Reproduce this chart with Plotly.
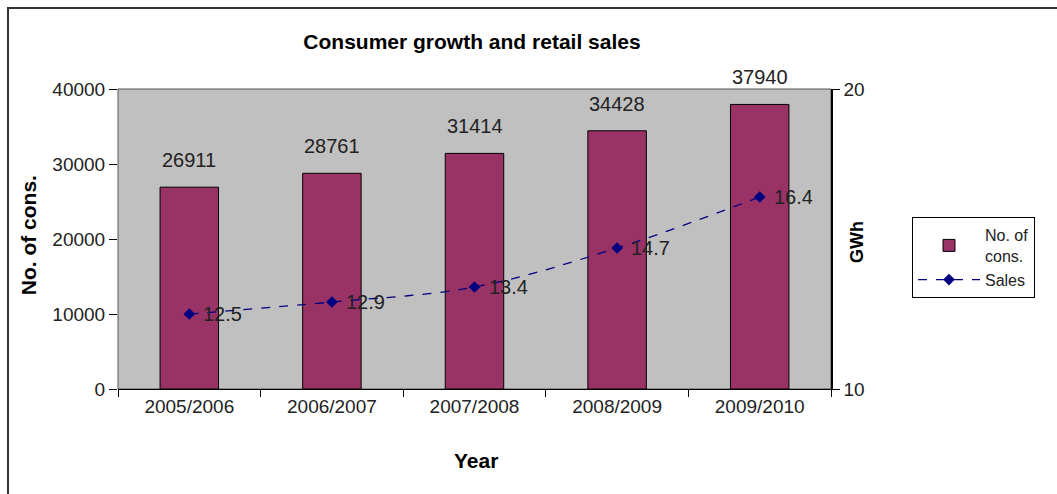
import plotly.graph_objects as go

# Consumer counts (bars, left axis) and retail sales in GWh (line, right axis)
years = ["2005/2006", "2006/2007", "2007/2008", "2008/2009", "2009/2010"]
consumers = [26911, 28761, 31414, 34428, 37940]
sales_gwh = [12.5, 12.9, 13.4, 14.7, 16.4]

FONT = "Liberation Sans, Arial, sans-serif"
BAR_COLOR = "#993366"
LINE_COLOR = "#000080"

fig = go.Figure()

fig.add_trace(go.Bar(
    x=years, y=consumers, name="No. of<br>cons.",
    marker=dict(color=BAR_COLOR, line=dict(color="black", width=1)),
    width=0.41, yaxis="y",
))

fig.add_trace(go.Scatter(
    x=years, y=sales_gwh, name="Sales", yaxis="y2",
    mode="lines+markers",
    line=dict(color=LINE_COLOR, width=1.3, dash="dash", shape="spline"),
    marker=dict(symbol="diamond", size=9, color=LINE_COLOR),
    cliponaxis=False,
))

# value labels above the bars
for yr, v in zip(years, consumers):
    fig.add_annotation(x=yr, y=v, xref="x", yref="y", text=str(v),
                       showarrow=False, yanchor="bottom", yshift=14,
                       font=dict(family=FONT, size=20, color="#222222"))

# value labels to the right of the sales points
for yr, v in zip(years, sales_gwh):
    fig.add_annotation(x=yr, y=v, xref="x", yref="y2", text=f"{v:.1f}",
                       showarrow=False, xanchor="left", yanchor="middle",
                       xshift=12,
                       font=dict(family=FONT, size=20, color="#222222"))

# axis titles
fig.add_annotation(text="<b>No. of cons.</b>", xref="paper", yref="paper",
                   x=-0.126, y=0.513, xanchor="center", yanchor="middle",
                   textangle=-90, showarrow=False,
                   font=dict(family=FONT, size=21, color="black"))
fig.add_annotation(text="<b>GWh</b>", xref="paper", yref="paper",
                   x=1.0365, y=0.49, xanchor="center", yanchor="middle",
                   textangle=-90, showarrow=False,
                   font=dict(family=FONT, size=18, color="black"))
fig.add_annotation(text="<b>Year</b>", xref="paper", yref="paper",
                   x=0.502, y=-0.237, xanchor="center", yanchor="middle",
                   showarrow=False,
                   font=dict(family=FONT, size=21, color="black"))

# plot-area frame and outer chart border
fig.add_shape(type="rect", xref="paper", yref="paper", x0=0, y0=0, x1=1, y1=1,
              line=dict(color="#555555", width=1), layer="below")
fig.add_shape(type="rect", xref="paper", yref="paper",
              x0=(8 - 118) / 713, y0=(389 - 498) / 300,
              x1=(1062 - 118) / 713, y1=(389 - 8) / 300,
              line=dict(color="#333333", width=2))

fig.update_layout(
    width=1057, height=494,
    margin=dict(l=118, r=226, t=89, b=105),
    paper_bgcolor="white", plot_bgcolor="#C0C0C0",
    font=dict(family=FONT, size=18, color="#222222"),
    title=dict(text="<b>Consumer growth and retail sales</b>",
               x=0.4965, xref="paper", xanchor="center",
               y=1 - 42 / 494, yref="container", yanchor="middle",
               font=dict(family=FONT, size=21, color="black")),
    showlegend=True,
    legend=dict(x=1.1136, y=0.573, xanchor="left", yanchor="top",
                bgcolor="white", bordercolor="black", borderwidth=1,
                font=dict(family=FONT, size=16, color="#222222"),
                itemwidth=62, tracegroupgap=0),
    bargap=0.59,
    xaxis=dict(type="category", showgrid=False, showline=True,
               linecolor="black", linewidth=1,
               ticks="outside", tickson="boundaries", ticklen=7,
               tickcolor="black",
               tickfont=dict(family=FONT, size=19, color="#222222")),
    yaxis=dict(range=[0, 40000], dtick=10000, tickformat="d",
               showgrid=False, zeroline=False, showline=False,
               ticks="outside", ticklen=8, tickcolor="black",
               tickfont=dict(family=FONT, size=19, color="#222222")),
    yaxis2=dict(range=[10, 20], dtick=10, overlaying="y", side="right",
                showgrid=False, zeroline=False, showline=True,
                linecolor="black", linewidth=1.5,
                ticks="outside", ticklen=7, tickcolor="black",
                tickfont=dict(family=FONT, size=19, color="#222222")),
)

fig.write_html("out.html")
